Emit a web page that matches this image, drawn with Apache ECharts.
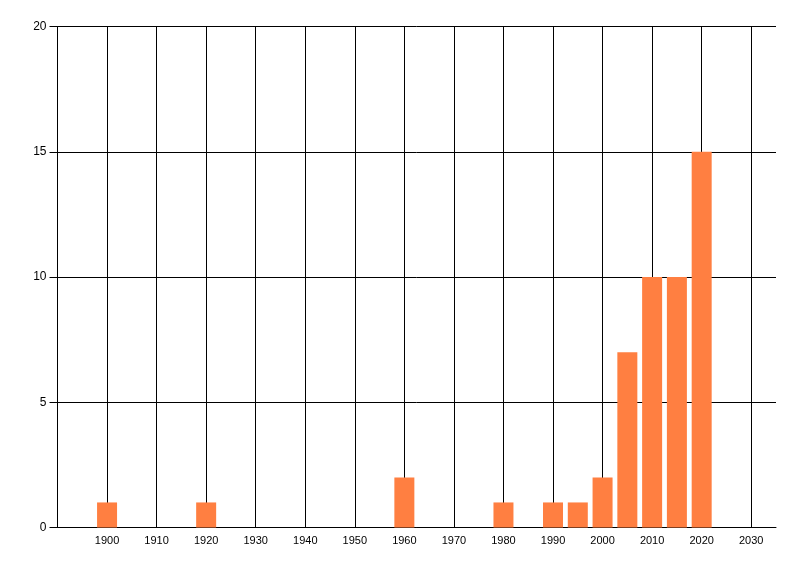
<!DOCTYPE html>
<html>
<head>
<meta charset="utf-8">
<script src="https://cdn.jsdelivr.net/npm/echarts@6/dist/echarts.min.js"></script>
<style>
  html, body { margin: 0; padding: 0; background: #fff; }
  #chart { width: 800px; height: 576px; }
</style>
</head>
<body>
<div id="chart"></div>
<script>
// bar positions (year) and their counts
const years = [1900, 1920, 1960, 1980, 1990, 1995, 2000, 2005, 2010, 2015, 2020]
const counts = [1, 1, 2, 1, 1, 1, 2, 7, 10, 10, 15]

const chart = echarts.init(document.querySelector('#chart'))

const lineStyle = {color: '#000', width: 1}
const font = {color: '#000', fontSize: 11, fontFamily: 'Liberation Sans, DejaVu Sans, sans-serif'}

const option = {
  animation: false,
  grid: {left: 57.5, right: 24, top: 26.5, bottom: 48.5, containLabel: false},
  xAxis: {
    type: 'value',
    min: 1890,
    max: 2035,
    interval: 10,
    axisLine: {show: true, onZero: false, lineStyle: lineStyle},
    axisTick: {show: false},
    splitLine: {show: true, showMinLine: false, showMaxLine: false, lineStyle: lineStyle},
    axisLabel: Object.assign({
      margin: 8,
      showMinLabel: false,
      showMaxLabel: false,
      formatter: v => (v % 10 === 0 && v > 1890 && v < 2035) ? String(v) : ''
    }, font)
  },
  yAxis: {
    type: 'value',
    min: 0,
    max: 20,
    interval: 5,
    axisLine: {show: true, lineStyle: lineStyle},
    axisTick: {show: true, length: 8, lineStyle: lineStyle},
    splitLine: {show: true, lineStyle: lineStyle},
    axisLabel: Object.assign({margin: 11}, font, {fontSize: 12})
  },
  series: [
    {
      type: 'bar',
      barWidth: 20,
      itemStyle: {color: '#FF7F41'},
      data: years.map((y, i) => [y, counts[i]])
    }
  ]
}

chart.setOption(option)
</script>
</body>
</html>
